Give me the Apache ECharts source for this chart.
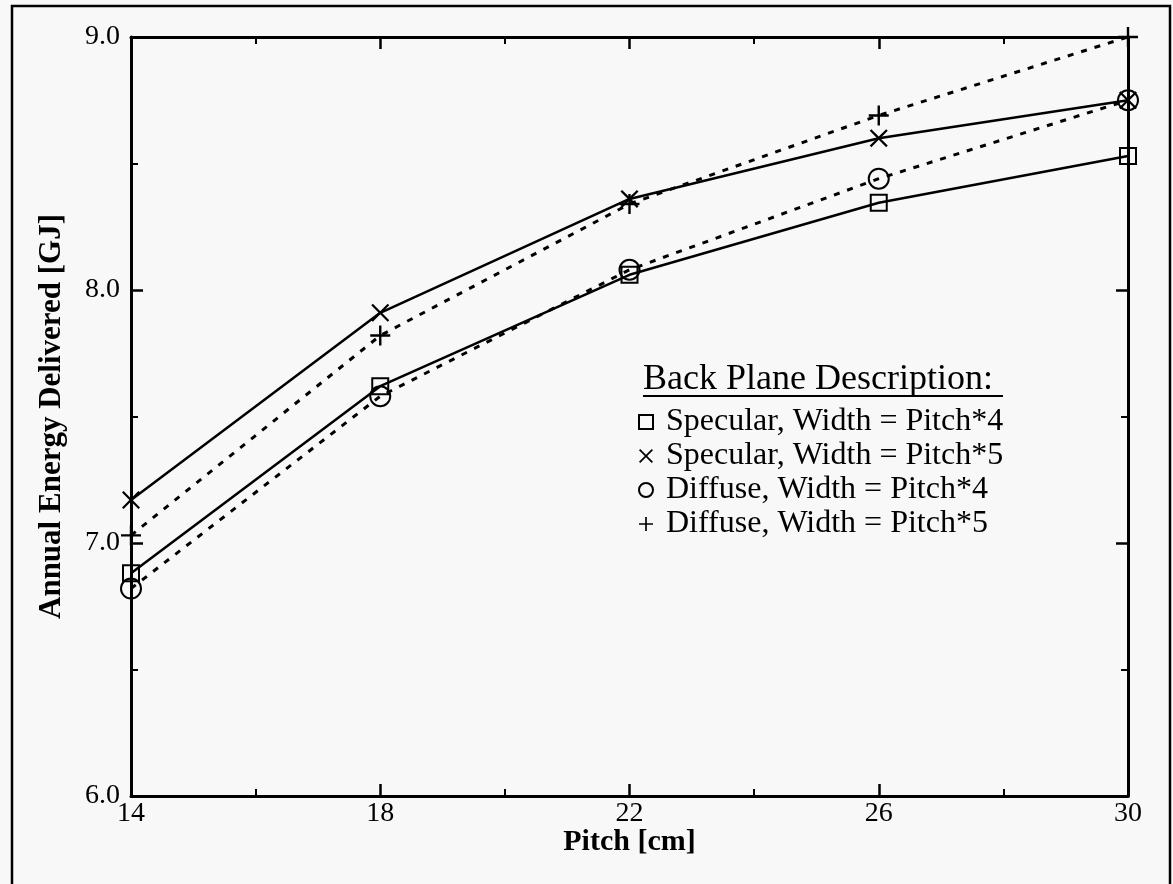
<!DOCTYPE html>
<html>
<head>
<meta charset="utf-8">
<script src="https://cdn.jsdelivr.net/npm/echarts@6/dist/echarts.min.js"></script>
<style>
html,body{margin:0;padding:0;background:#f8f8f8;}
#c{width:1173px;height:884px;}
</style>
</head>
<body>
<div id="c"></div>
<script>
const pitch = [14, 18, 22, 26, 30];
const specular4 = [6.88, 7.62, 8.06, 8.345, 8.53];
const specular5 = [7.17, 7.91, 8.36, 8.60, 8.75];
const diffuse4 = [6.82, 7.58, 8.08, 8.44, 8.75];
const diffuse5 = [7.03, 7.82, 8.34, 8.69, 9.00];
const seriesNames = ['Specular, Width = Pitch*4', 'Specular, Width = Pitch*5', 'Diffuse, Width = Pitch*4', 'Diffuse, Width = Pitch*5'];
const legendTitle = 'Back Plane Description:';
const xTitle = 'Pitch [cm]';
const yTitle = 'Annual Energy Delivered [GJ]';

const FONT = '"Liberation Serif", "Times New Roman", serif';
const PLUS = 'path://M-1.2,-10 L1.2,-10 L1.2,-1.2 L10,-1.2 L10,1.2 L1.2,1.2 L1.2,10 L-1.2,10 L-1.2,1.2 L-10,1.2 L-10,-1.2 L-1.2,-1.2 Z';
const CROSS = 'path://M-8.5,-7 L-7,-8.5 L0,-1.5 L7,-8.5 L8.5,-7 L1.5,0 L8.5,7 L7,8.5 L0,1.5 L-7,8.5 L-8.5,7 L-1.5,0 Z';

function pts(vals){ return pitch.map((p,i)=>[p, vals[i]]); }

const hollow = {color:'rgba(0,0,0,0)', borderColor:'#000', borderWidth:2};
const solid = {color:'#000', borderWidth:0};

const chart = echarts.init(document.getElementById('c'), null, {renderer:'canvas'});

const axisCommon = {
  axisLine:{show:true, onZero:false, lineStyle:{color:'#000', width:3}},
  axisTick:{show:true, inside:true, length:12, lineStyle:{color:'#000', width:2.5}},
  minorTick:{show:true, splitNumber:2, length:7, lineStyle:{color:'#000', width:2}},
  splitLine:{show:false},
  minorSplitLine:{show:false}
};

const option = {
  backgroundColor:'#f8f8f8',
  animation:false,
  grid:{left:131, right:45, top:37, bottom:88, containLabel:false},
  xAxis:[
    Object.assign({type:'value', min:14, max:30, interval:4, position:'bottom',
      name:xTitle, nameLocation:'middle', nameGap:31, nameMoveOverlap:false,
      nameTextStyle:{fontFamily:FONT, fontWeight:'bold', fontSize:30, color:'#000'},
      axisLabel:{fontFamily:FONT, fontSize:28, color:'#000', margin:4}}, axisCommon),
    Object.assign({type:'value', min:14, max:30, interval:4, position:'top',
      axisLabel:{show:false}}, axisCommon)
  ],
  yAxis:[
    Object.assign({type:'value', min:6, max:9, interval:1, position:'left',
      name:yTitle, nameLocation:'middle', nameGap:64, nameRotate:90, nameMoveOverlap:false,
      nameTextStyle:{fontFamily:FONT, fontWeight:'bold', fontSize:31, color:'#000'},
      axisLabel:{fontFamily:FONT, fontSize:28, color:'#000', margin:11, formatter:v=>v.toFixed(1)}}, axisCommon),
    Object.assign({type:'value', min:6, max:9, interval:1, position:'right',
      axisLabel:{show:false}}, axisCommon)
  ],
  legend:{
    orient:'vertical', left:633, top:401, itemGap:2, itemWidth:14, itemHeight:14,
    textStyle:{fontFamily:FONT, fontSize:32, color:'#000', padding:[0,0,0,8]},
    selectedMode:false,
    data:[
      {name:seriesNames[0], icon:'rect', itemStyle:{color:'rgba(0,0,0,0)', borderColor:'#000', borderWidth:2}},
      {name:seriesNames[1], icon:CROSS, itemStyle:{color:'#000', borderWidth:0}},
      {name:seriesNames[2], icon:'circle', itemStyle:{color:'rgba(0,0,0,0)', borderColor:'#000', borderWidth:2}},
      {name:seriesNames[3], icon:PLUS, itemStyle:{color:'#000', borderWidth:0}}
    ]
  },
  graphic:[
    {type:'rect', silent:true, shape:{x:12, y:6, width:1158, height:900},
     style:{fill:'none', stroke:'#000', lineWidth:2.5}},
    {type:'text', left:643, top:362, silent:true,
     style:{text:legendTitle, font:'36px ' + FONT, fill:'#000'}},
    {type:'line', silent:true, shape:{x1:643, y1:396, x2:1003, y2:396},
     style:{stroke:'#000', lineWidth:2}}
  ],
  series:[
    {name:seriesNames[0], type:'line', data:pts(specular4), symbol:'rect', symbolSize:16,
     itemStyle:hollow, lineStyle:{color:'#000', width:2.5, type:'solid'}, clip:false, z:3},
    {name:seriesNames[1], type:'line', data:pts(specular5), symbol:CROSS, symbolSize:18,
     itemStyle:solid, lineStyle:{color:'#000', width:2.5, type:'solid'}, clip:false, z:3},
    {name:seriesNames[2], type:'line', data:pts(diffuse4), symbol:'circle', symbolSize:20,
     itemStyle:hollow, lineStyle:{color:'#000', width:3, type:[6,8]}, clip:false, z:3},
    {name:seriesNames[3], type:'line', data:pts(diffuse5), symbol:PLUS, symbolSize:20,
     itemStyle:solid, lineStyle:{color:'#000', width:3, type:[6,8]}, clip:false, z:3}
  ]
};
chart.setOption(option);
</script>
</body>
</html>
